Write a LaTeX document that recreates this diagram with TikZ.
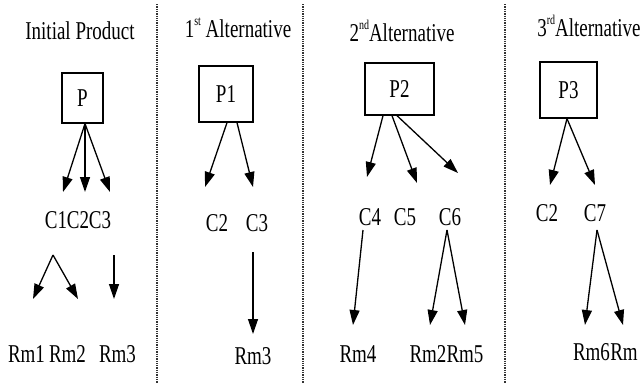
\documentclass[tikz,border=0pt]{standalone}
\usepackage{fontspec}
\setmainfont{Liberation Serif}
\usetikzlibrary{arrows.meta}
% tall narrow lettering and small ordinal marks
\newcommand{\tx}[1]{\scalebox{1}[1.35]{#1}}
\newcommand{\ord}[1]{\raisebox{1.0ex}{\fontsize{10}{10}\selectfont #1}}

\begin{document}
\begin{tikzpicture}[x=1pt,y=-1pt,every node/.style={font=\fontsize{19}{22}\selectfont}]
	\tikzstyle{prod} = [draw=black, line width=1.3pt, inner sep=0pt]
	\tikzstyle{part} = [inner sep=0pt]
	\tikzstyle{link} = [draw=black, line width=1.3pt, -{Triangle[length=15pt,width=10pt]}]
	\tikzstyle{divider} = [draw=black!80, line width=1.3pt, densely dotted]
	\useasboundingbox (0,0) rectangle (644,383);
	\fill[white] (0,0) rectangle (644,383);
	% dividers between the four columns
	\draw[divider] (157,4) -- (157,383);
	\draw[divider] (303,4) -- (303,383);
	\draw[divider] (505,4) -- (505,383);
	% column titles
		\node (t0) at (80,31)  {\tx{Initial Product}};
		\node (t1) at (238,28) {\tx{1\ord{st} Alternative}};
		\node (t2) at (402,31) {\tx{2\ord{nd}Alternative}};
		\node (t3) at (589,26) {\tx{3\ord{rd}Alternative}};
	% initial product
		\node[prod, minimum width=41pt, minimum height=50pt] (p) at (82.5,98) {\tx{P}};
		\node[part] (c1) at (56,220)  {\tx{C1}};
		\node[part] (c2) at (78,220)  {\tx{C2}};
		\node[part] (c3) at (100,220) {\tx{C3}};
		\node[part] (rm1) at (26.5,354)  {\tx{Rm1}};
		\node[part] (rm2) at (67.5,354)  {\tx{Rm2}};
		\node[part] (rm3) at (117.5,354) {\tx{Rm3}};
	\draw[link] ([xshift=2.5pt]p.south) -- ([shift={(7,-28)}]c1.center);
	\draw[link] ([xshift=2.5pt]p.south) -- ([shift={(7,-28)}]c2.center);
	\draw[link] ([xshift=2.5pt]p.south) -- ([shift={(10,-28)}]c3.center);
	\draw[link] ([shift={(-3,35)}]c1.center) -- ([shift={(6.5,-55)}]rm1.center);
	\draw[link] ([shift={(-3,35)}]c1.center) -- ([shift={(10.5,-55)}]rm2.center);
	\draw[link] ([shift={(14,35)}]c3.center) -- ([shift={(-3.5,-55)}]rm3.center);
	% first alternative
		\node[prod, minimum width=54pt, minimum height=56pt] (p1) at (226,94) {\tx{P1}};
		\node[part] (c2b) at (217,223) {\tx{C2}};
		\node[part] (c3b) at (257,223) {\tx{C3}};
		\node[part] (rm3b) at (253,356) {\tx{Rm3}};
	\draw[link] ([xshift=1pt]p1.south) -- ([shift={(-12,-36)}]c2b.center);
	\draw[link] ([xshift=11pt]p1.south) -- ([shift={(-4,-36)}]c3b.center);
	\draw[link] ([shift={(-4,29)}]c3b.center) -- ([shift={(0,-22)}]rm3b.center);
	% second alternative
		\node[prod, minimum width=69pt, minimum height=52pt] (p2) at (399.5,89) {\tx{P2}};
		\node[part] (c4) at (370,217) {\tx{C4}};
		\node[part] (c5) at (405,217) {\tx{C5}};
		\node[part] (c6) at (450,217) {\tx{C6}};
		\node[part] (rm4) at (358,354)  {\tx{Rm4}};
		\node[part] (rm2b) at (428,354) {\tx{Rm2}};
		\node[part] (rm5) at (465,354)  {\tx{Rm5}};
	\draw[link] ([xshift=-16.5pt]p2.south) -- ([shift={(-3,-40)}]c4.center);
	\draw[link] ([xshift=-7.5pt]p2.south) -- ([shift={(12,-34)}]c5.center);
	\draw[link] ([xshift=-2.5pt]p2.south) -- ([shift={(8,-44)}]c6.center);
	\draw[link] ([shift={(-7,13)}]c4.center) -- ([shift={(-5,-29)}]rm4.center);
	\draw[link] ([shift={(-3,13)}]c6.center) -- ([shift={(2,-29)}]rm2b.center);
	\draw[link] ([shift={(-3,13)}]c6.center) -- ([shift={(0,-29)}]rm5.center);
	% third alternative
		\node[prod, minimum width=57pt, minimum height=56pt] (p3) at (568.5,90) {\tx{P3}};
		\node[part] (c2c) at (547,213) {\tx{C2}};
		\node[part] (c7) at (595,213)  {\tx{C7}};
		\node[part] (rm6) at (591.5,352) {\tx{Rm6}};
		\node[part] (rm7) at (624,352)   {\tx{Rm}};
	\draw[link] ([xshift=-1.5pt]p3.south) -- ([shift={(3,-28)}]c2c.center);
	\draw[link] ([xshift=-1.5pt]p3.south) -- ([shift={(0,-28)}]c7.center);
	\draw[link] ([shift={(2,17)}]c7.center) -- ([shift={(-6.5,-27)}]rm6.center);
	\draw[link] ([shift={(2,17)}]c7.center) -- ([shift={(-1,-27)}]rm7.center);
\end{tikzpicture}
\end{document}
